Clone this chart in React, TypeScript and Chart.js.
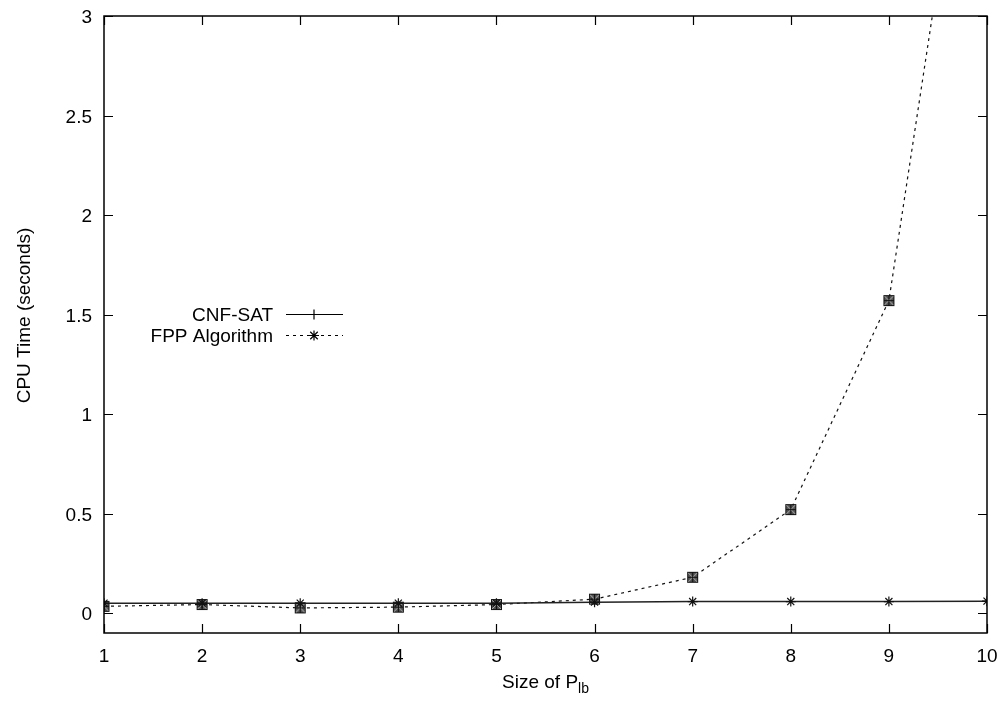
import React, { useEffect, useRef } from "react";
import { Chart, registerables } from "chart.js";

Chart.register(...registerables);

const xValues = [1, 2, 3, 4, 5, 6, 7, 8, 9, 10];
const cnfSat = [0.05, 0.05, 0.05, 0.05, 0.05, 0.055, 0.058, 0.058, 0.058, 0.06];
const fppAlgorithm = [0.034, 0.043, 0.026, 0.03, 0.043, 0.07, 0.18, 0.52, 1.57, 4.8];
const xTicks = [1, 2, 3, 4, 5, 6, 7, 8, 9, 10];
const yTicks = [0, 0.5, 1, 1.5, 2, 2.5, 3];
const seriesLabels = ["CNF-SAT", "FPP Algorithm"];
const yTitle = "CPU Time (seconds)";
const xTitleMain = "Size of P";
const xTitleSub = "lb";

const FONT = '"Liberation Sans", Arial, Helvetica, sans-serif';

function drawAsterisk(ctx: CanvasRenderingContext2D, x: number, y: number, r: number) {
  ctx.beginPath();
  ctx.moveTo(x - r, y);
  ctx.lineTo(x + r, y);
  ctx.moveTo(x, y - r);
  ctx.lineTo(x, y + r);
  ctx.moveTo(x - r * 0.75, y - r * 0.75);
  ctx.lineTo(x + r * 0.75, y + r * 0.75);
  ctx.moveTo(x - r * 0.75, y + r * 0.75);
  ctx.lineTo(x + r * 0.75, y - r * 0.75);
  ctx.stroke();
}

function makeBoxMarker(): HTMLCanvasElement {
  const c = document.createElement("canvas");
  c.width = 13;
  c.height = 13;
  const ctx = c.getContext("2d")!;
  ctx.fillStyle = "#555";
  ctx.fillRect(1, 1, 11, 11);
  ctx.strokeStyle = "#b0b0b0";
  ctx.lineWidth = 1;
  ctx.beginPath();
  ctx.moveTo(2, 2);
  ctx.lineTo(11, 11);
  ctx.moveTo(11, 2);
  ctx.lineTo(2, 11);
  ctx.stroke();
  ctx.strokeStyle = "#111";
  ctx.strokeRect(1.5, 1.5, 10, 10);
  ctx.lineWidth = 1.2;
  ctx.beginPath();
  ctx.moveTo(2, 6.5);
  ctx.lineTo(11, 6.5);
  ctx.moveTo(6.5, 2);
  ctx.lineTo(6.5, 11);
  ctx.stroke();
  return c;
}

const framePlugin = {
  id: "gnuplotFrame",
  afterDraw(chart: any) {
    const { ctx, chartArea } = chart;
    const { left, right, top, bottom } = chartArea;
    const xs = chart.scales.x;
    const ys = chart.scales.y;
    ctx.save();
    ctx.strokeStyle = "#000";
    ctx.lineWidth = 1.5;
    ctx.strokeRect(left, top, right - left, bottom - top);
    const tl = 9;
    ctx.lineWidth = 1.2;
    ctx.beginPath();
    xTicks.forEach((v) => {
      const px = Math.round(xs.getPixelForValue(v)) + 0.5;
      ctx.moveTo(px, bottom);
      ctx.lineTo(px, bottom - tl);
      ctx.moveTo(px, top);
      ctx.lineTo(px, top + tl);
    });
    yTicks.forEach((v) => {
      const py = Math.round(ys.getPixelForValue(v)) + 0.5;
      ctx.moveTo(left, py);
      ctx.lineTo(left + tl, py);
      ctx.moveTo(right, py);
      ctx.lineTo(right - tl, py);
    });
    ctx.stroke();

    // Y title
    ctx.fillStyle = "#000";
    ctx.font = `19px ${FONT}`;
    ctx.save();
    ctx.translate(30, (top + bottom) / 2 - 9);
    ctx.rotate(-Math.PI / 2);
    ctx.textAlign = "center";
    ctx.textBaseline = "alphabetic";
    ctx.fillText(yTitle, 0, 0);
    ctx.restore();

    // X title with subscript
    ctx.font = `19px ${FONT}`;
    const wMain = ctx.measureText(xTitleMain).width;
    ctx.font = `14px ${FONT}`;
    const wSub = ctx.measureText(xTitleSub).width;
    const total = wMain + wSub;
    const cx = (left + right) / 2;
    const x0 = cx - total / 2;
    const baseY = 688;
    ctx.textAlign = "left";
    ctx.textBaseline = "alphabetic";
    ctx.font = `19px ${FONT}`;
    ctx.fillText(xTitleMain, x0, baseY);
    ctx.font = `14px ${FONT}`;
    ctx.fillText(xTitleSub, x0 + wMain, baseY + 5);

    // Legend (gnuplot style)
    ctx.font = `19px ${FONT}`;
    const textRight = 273;
    const lineStart = 286;
    const lineEnd = 343;
    const markX = 314;
    seriesLabels.forEach((label, i) => {
      const by = 320.5 + i * 21;
      const ly = Math.round(by - 6.5) + 0.5;
      ctx.textAlign = "right";
      ctx.fillStyle = "#000";
      ctx.fillText(label, textRight, by);
      ctx.strokeStyle = "#000";
      ctx.lineWidth = 1.2;
      ctx.setLineDash(i === 0 ? [] : [3, 4]);
      ctx.beginPath();
      ctx.moveTo(lineStart, ly);
      ctx.lineTo(lineEnd, ly);
      ctx.stroke();
      ctx.setLineDash([]);
      if (i === 0) {
        ctx.beginPath();
        ctx.moveTo(markX - 5, ly);
        ctx.lineTo(markX + 5, ly);
        ctx.moveTo(markX, ly - 5);
        ctx.lineTo(markX, ly + 5);
        ctx.stroke();
      } else {
        drawAsterisk(ctx, markX, ly, 5);
      }
    });
    ctx.restore();
  },
};

export default function App() {
  const ref = useRef<HTMLCanvasElement | null>(null);
  useEffect(() => {
    document.body.style.margin = "0";
    const canvas = ref.current;
    if (!canvas) return;
    const boxMarker = makeBoxMarker();
    const chart = new Chart(canvas, {
      type: "line",
      data: {
        datasets: [
          {
            label: seriesLabels[0],
            data: xValues.map((x, i) => ({ x, y: cnfSat[i] })),
            borderColor: "#222",
            backgroundColor: "#111",
            borderWidth: 1.5,
            pointStyle: "star",
            pointRadius: 5,
            pointBorderWidth: 1.2,
            pointBorderColor: "#111",
            tension: 0,
          },
          {
            label: seriesLabels[1],
            data: xValues.map((x, i) => ({ x, y: fppAlgorithm[i] })),
            borderColor: "#111",
            backgroundColor: "#111",
            borderWidth: 1.2,
            borderDash: [3, 4],
            pointStyle: boxMarker as any,
            pointRadius: 6,
            tension: 0,
          },
        ],
      },
      options: {
        animation: false,
        responsive: true,
        maintainAspectRatio: false,
        events: [],
        layout: { padding: { top: 16, right: 18, left: 0, bottom: 0 } },
        plugins: {
          legend: { display: false },
          tooltip: { enabled: false },
          title: { display: false },
        },
        scales: {
          x: {
            type: "linear",
            min: 1,
            max: 10,
            afterBuildTicks: (s: any) => {
              s.ticks = xTicks.map((v) => ({ value: v }));
            },
            afterFit: (s: any) => {
              s.height = 69;
              s.paddingLeft = 0;
              s.paddingRight = 0;
            },
            ticks: {
              color: "#000",
              font: { family: FONT, size: 19 },
              padding: 12,
              maxRotation: 0,
              autoSkip: false,
              callback: (v: any) => String(v),
            },
            grid: { display: false, drawTicks: false },
            border: { display: false },
          },
          y: {
            type: "linear",
            min: -0.1,
            max: 3,
            afterBuildTicks: (s: any) => {
              s.ticks = yTicks.map((v) => ({ value: v }));
            },
            afterFit: (s: any) => {
              s.width = 104;
              s.paddingTop = 0;
              s.paddingBottom = 0;
            },
            ticks: {
              color: "#000",
              font: { family: FONT, size: 19 },
              padding: 12,
              labelOffset: 2,
              autoSkip: false,
              callback: (v: any) => String(v),
            },
            grid: { display: false, drawTicks: false },
            border: { display: false },
          },
        },
      },
      plugins: [framePlugin],
    });
    return () => chart.destroy();
  }, []);
  return (
    <div style={{ position: "fixed", left: 0, top: 0, width: 1005, height: 702, background: "#fff" }}>
      <canvas ref={ref} />
    </div>
  );
}
